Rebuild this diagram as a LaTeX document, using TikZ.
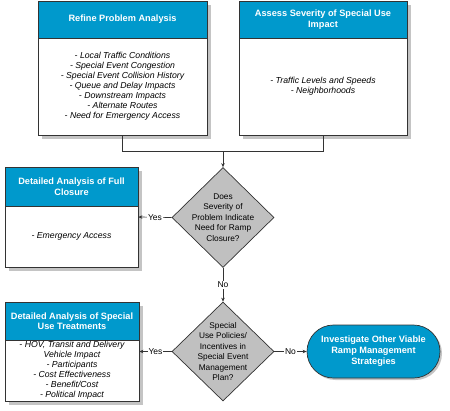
\documentclass[tikz,border=0pt]{standalone}
\usepackage{fontspec}
\setmainfont{Liberation Sans}
\usetikzlibrary{shapes.geometric,shadows,arrows.meta}
\definecolor{hdr}{HTML}{0099CC}
\definecolor{dia}{HTML}{C0C0C0}
\definecolor{shd}{HTML}{C4C4C4}
\definecolor{ln}{HTML}{333333}
\begin{document}
\begin{tikzpicture}[x=1pt,y=-1pt,
 box/.style={draw=ln, line width=0.7pt, fill=white, rectangle, inner sep=0pt,
   drop shadow={shadow xshift=4pt, shadow yshift=-4pt, fill=shd, opacity=1}},
 hdrbox/.style={draw=ln, line width=0.7pt, fill=hdr, rectangle, inner sep=0pt,
   font=\fontsize{9.2}{10.5}\selectfont\bfseries, text=white, align=center},
 body/.style={font=\fontsize{8.7}{10}\selectfont\itshape, align=center, inner sep=0pt},
 dec/.style={diamond, draw=ln, fill=dia, line width=0.7pt, inner sep=0pt},
 dectext/.style={font=\fontsize{8.3}{10.5}\selectfont, align=center, inner sep=0pt},
 term/.style={draw=ln, line width=0.7pt, fill=hdr, rectangle, inner sep=0pt,
   font=\fontsize{9.2}{11}\selectfont\bfseries, text=white, align=center,
   drop shadow={shadow xshift=2pt, shadow yshift=-2pt, fill=shd, opacity=1}},
 conn/.style={draw=ln, line width=0.7pt},
 arr/.style={conn, -{Stealth[length=4pt,width=3.5pt]}},
 lbl/.style={fill=white, inner sep=1pt, font=\fontsize{8.5}{9}\selectfont}
]
\useasboundingbox (0,0) rectangle (450,410);

% Box 1
\node[box, minimum width=169pt, minimum height=134pt] (b1) at (122.5,68) {};
\node[hdrbox, minimum width=169pt, minimum height=37pt, anchor=north] (h1) at (b1.north) {Refine Problem Analysis};
\node[body] (t1) at (122.5,86.5) {- Local Traffic Conditions\\- Special Event Congestion\\- Special Event Collision History\\- Queue and Delay Impacts\\- Downstream Impacts\\- Alternate Routes\\- Need for Emergency Access};

% Box 2
\node[box, minimum width=168pt, minimum height=134pt] (b2) at (323,68) {};
\node[hdrbox, minimum width=168pt, minimum height=37pt, anchor=north] (h2) at (b2.north) {Assess Severity of Special Use\\Impact};
\node[body] (t2) at (323,86) {- Traffic Levels and Speeds\\- Neighborhoods};

% Decision 1
\node[dec, minimum width=102pt, minimum height=100pt] (d1) at (223,217.5) {};
\node[dectext] (dt1) at (d1.center) {Does\\Severity of\\Problem Indicate\\Need for Ramp\\Closure?};

% Box 3
\node[box, minimum width=133pt, minimum height=100pt] (b3) at (71.5,217) {};
\node[hdrbox, minimum width=133pt, minimum height=39pt, anchor=north] (h3) at (b3.north) {Detailed Analysis of Full\\Closure};
\node[body] (t3) at (71.5,236.5) {- Emergency Access};

% Decision 2
\node[dec, minimum width=102pt, minimum height=99pt] (d2) at (223,351.5) {};
\node[dectext] (dt2) at (d2.center) {Special\\Use Policies/\\Incentives in\\Special Event\\Management\\Plan?};

% Box 4
\node[box, minimum width=134pt, minimum height=99pt] (b4) at (72,351.5) {};
\node[hdrbox, minimum width=134pt, minimum height=38pt, anchor=north] (h4) at (b4.north) {Detailed Analysis of Special\\Use Treatments};
\node[body] (t4) at (72,370) {- HOV, Transit and Delivery\\Vehicle Impact\\- Participants\\- Cost Effectiveness\\- Benefit/Cost\\- Political Impact};

% Terminal
\node[term, minimum width=133pt, minimum height=53pt, rounded corners=26.5pt] (e) at (373.5,351.5) {Investigate Other Viable\\Ramp Management\\Strategies};

% Connectors
\coordinate (m) at (223,151);
\draw[conn] (b1.south) |- (m);
\draw[conn] (b2.south) |- (m);
\draw[arr] (m) -- (d1.north);
\draw[arr] (d1.west) -- node[lbl]{Yes} (b3.east);
\draw[arr] (d1.south) -- node[lbl]{No} (d2.north);
\draw[arr] (d2.west) -- node[lbl]{Yes} (b4.east);
\draw[arr] (d2.east) -- node[lbl]{No} (e.west);
\end{tikzpicture}
\end{document}
